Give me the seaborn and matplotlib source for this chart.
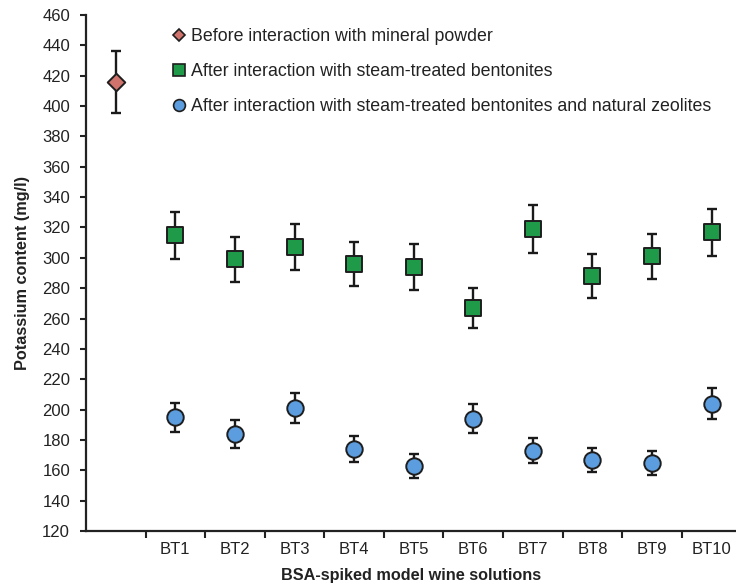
import numpy as np
import pandas as pd
import matplotlib
matplotlib.use("Agg")
import matplotlib.pyplot as plt
from matplotlib.lines import Line2D
from matplotlib.ticker import FixedLocator, NullFormatter
import seaborn as sns

# Categories along the x axis (first slot holds the initial solution, unlabeled)
categories = ["", "BT1", "BT2", "BT3", "BT4", "BT5", "BT6", "BT7", "BT8", "BT9", "BT10"]
samples = ["BT1", "BT2", "BT3", "BT4", "BT5", "BT6", "BT7", "BT8", "BT9", "BT10"]

# Potassium content (mg/l) and error (±)
before_value = [416]
before_err = [20.5]
bentonite_value = [315, 299, 307, 296, 294, 267, 319, 288, 301, 317]
bentonite_err = [15.5, 15, 15, 14.5, 15, 13, 15.5, 14.5, 15, 15.5]
zeolite_value = [195, 184, 201, 174, 163, 194, 173, 167, 165, 204]
zeolite_err = [9.5, 9, 10, 8.5, 8, 9.5, 8.5, 8, 8, 10]

labels = [
    "Before interaction with mineral powder",
    "After interaction with steam-treated bentonites",
    "After interaction with steam-treated bentonites and natural zeolites",
]
y_ticks = list(range(120, 461, 20))

sns.set_theme(style="ticks")
plt.rcParams["font.family"] = ["Liberation Sans", "DejaVu Sans"]

pos = {c: i for i, c in enumerate(categories)}
df = pd.concat([
    pd.DataFrame({"cat": [""], "value": before_value, "err": before_err, "series": labels[0]}),
    pd.DataFrame({"cat": samples, "value": bentonite_value, "err": bentonite_err, "series": labels[1]}),
    pd.DataFrame({"cat": samples, "value": zeolite_value, "err": zeolite_err, "series": labels[2]}),
], ignore_index=True)
df["x"] = df["cat"].map(pos)

colors = {labels[0]: "#d0736c", labels[1]: "#1f9a48", labels[2]: "#5b9ddf"}
markers = {labels[0]: "D", labels[1]: "s", labels[2]: "o"}
sizes = {labels[0]: 80, labels[1]: 130, labels[2]: 140}

fig = plt.figure(figsize=(7.36, 5.85), dpi=100)
ax = fig.add_axes([86 / 736, 54 / 585, 650 / 736, 516 / 585])

for s in labels:
    sub = df[df["series"] == s]
    ax.errorbar(sub["x"], sub["value"], yerr=sub["err"], fmt="none",
                ecolor="#1a1a1a", elinewidth=1.7, capsize=3.6, capthick=1.7, zorder=2)
    sns.scatterplot(data=sub, x="x", y="value", marker=markers[s], color=colors[s],
                    s=sizes[s], edgecolor="#1e1e1e", linewidth=1.4, ax=ax,
                    zorder=3, legend=False)

ax.set_xlim(-0.5, 10.41)
ax.set_ylim(120, 460)
ax.set_yticks(y_ticks)
ax.set_yticklabels([str(t) for t in y_ticks])
ax.set_xticks(range(len(categories)))
ax.set_xticklabels(categories)
ax.xaxis.set_minor_locator(FixedLocator(np.arange(0.5, 10.5, 1.0)))
ax.xaxis.set_minor_formatter(NullFormatter())
ax.tick_params(axis="x", which="major", length=0, pad=8, labelsize=12, colors="#222222")
ax.tick_params(axis="x", which="minor", length=5, width=1.5, direction="out", color="#222222")
ax.tick_params(axis="y", length=4, width=1.5, direction="out", labelsize=12,
               colors="#222222", pad=7.5)
for side in ("top", "right"):
    ax.spines[side].set_visible(False)
for side in ("left", "bottom"):
    ax.spines[side].set_linewidth(1.6)
    ax.spines[side].set_color("#222222")

ax.set_xlabel("BSA-spiked model wine solutions", fontsize=11.7, fontweight="bold",
              labelpad=8, color="#222222")
ax.set_ylabel("Potassium content (mg/l)", fontsize=11.7, fontweight="bold",
              labelpad=9, color="#222222")

handles = [
    Line2D([], [], linestyle="none", marker=markers[s], markersize=ms,
           markerfacecolor=colors[s], markeredgecolor="#1e1e1e", markeredgewidth=1.2)
    for s, ms in zip(labels, [6, 8, 8.5])
]
ax.legend(handles, labels, loc="upper left", bbox_to_anchor=(166 / 736, 1 - 21 / 585),
          bbox_transform=fig.transFigure, frameon=False, fontsize=12.8,
          handlelength=0.7, handletextpad=0.3, labelspacing=1.02, borderaxespad=0,
          labelcolor="#222222")

fig.savefig("out.png", dpi=100)
